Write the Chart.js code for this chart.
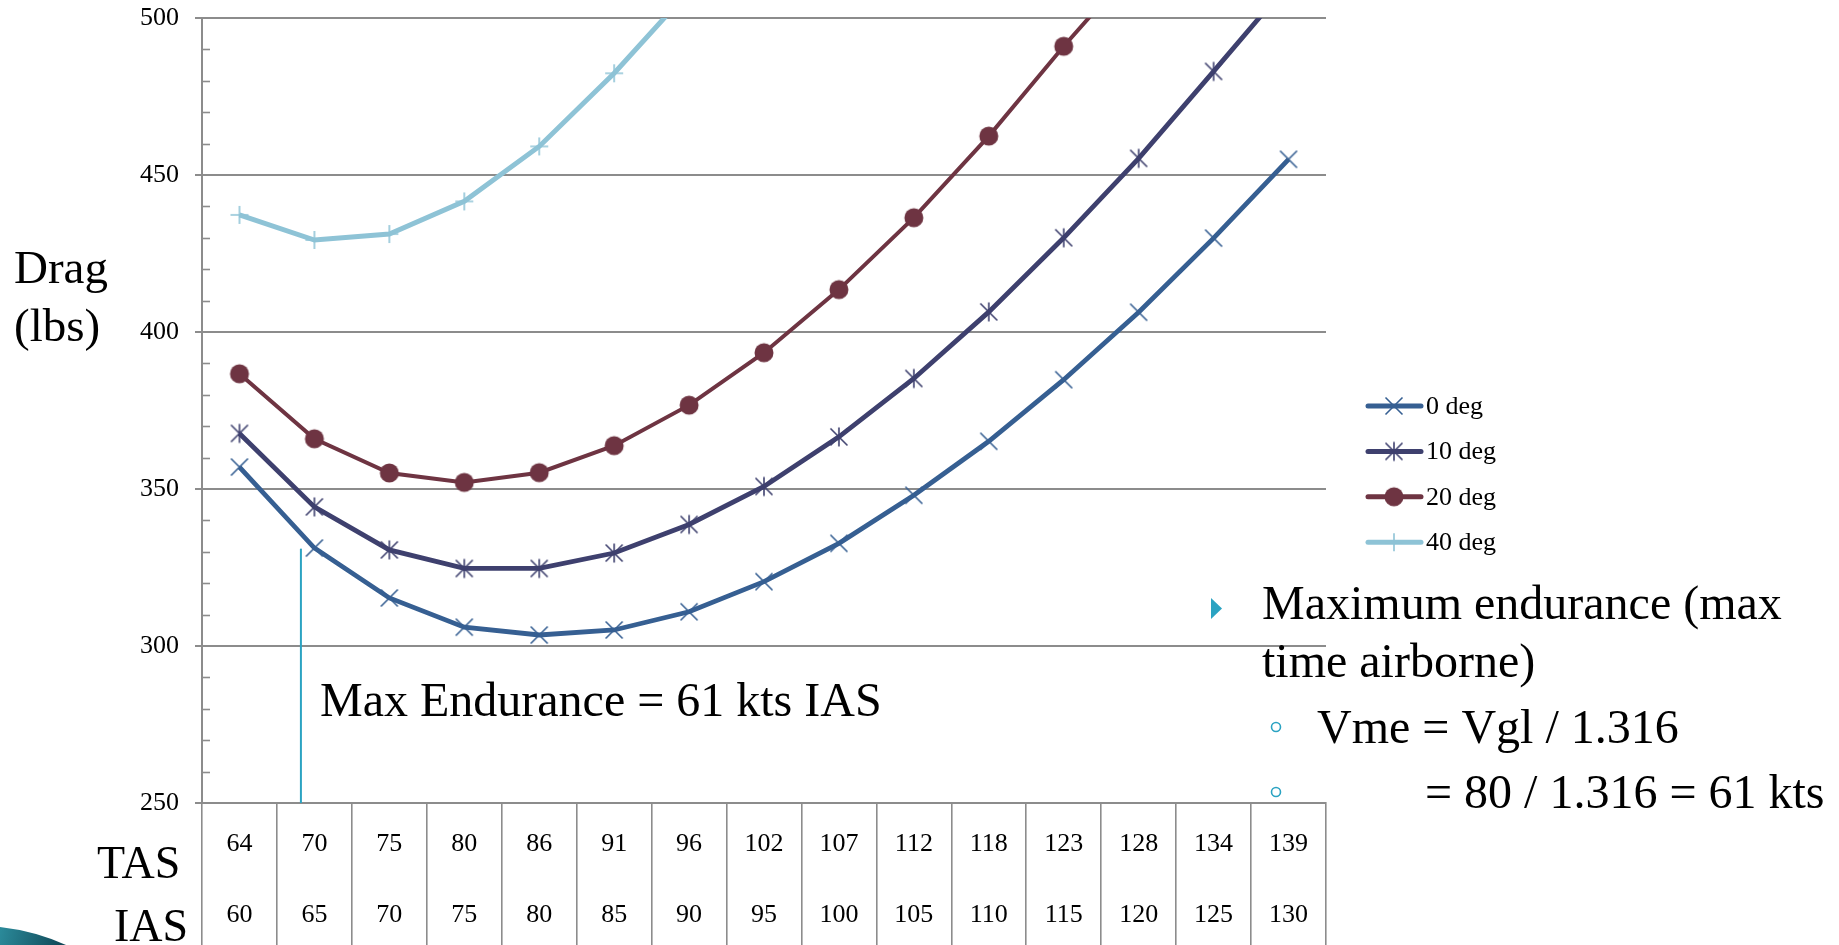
<!DOCTYPE html>
<html>
<head>
<meta charset="utf-8">
<script src="https://cdn.jsdelivr.net/npm/chart.js@4.4.1/dist/chart.umd.min.js"></script>
<style>
  html, body { margin: 0; padding: 0; background: #fff; }
  #wrap { position: relative; width: 1839px; height: 945px; }
</style>
</head>
<body>
<div id="wrap"><canvas id="dragChart"></canvas></div>
<script>
// speeds along the x axis (two rows under the plot)
const tasLabels = ['64', '70', '75', '80', '86', '91', '96', '102', '107', '112', '118', '123', '128', '134', '139'];
const iasLabels = ['60', '65', '70', '75', '80', '85', '90', '95', '100', '105', '110', '115', '120', '125', '130'];

const seriesNames = ['0 deg', '10 deg', '20 deg', '40 deg'];

// drag in lbs (points above 500 are cut off by the axis)
const drag0 = [357, 331.2, 315.3, 306, 303.5, 305.1, 310.9, 320.5, 332.7, 348, 365.2, 384.8, 406.3, 429.9, 455];
const drag10 = [367.7, 344.3, 330.6, 324.7, 324.7, 329.6, 338.7, 350.8, 366.6, 385.2, 406.4, 430, 455.3, 483, 511];
const drag20 = [386.7, 366, 355.1, 352.1, 355.2, 363.8, 376.7, 393.4, 413.5, 436.4, 462.4, 491, 518, null, null];
const drag40 = [437.3, 429.3, 431.2, 441.6, 459.1, 482.4, 508.7, null, null, null, null, null, null, null, null];

const yMin = 250;
const yMax = 500;
const yStep = 50;
const yMinorStep = 10;

// max endurance marker (category position and top value)
const endurancePos = 0.82;
const enduranceTop = 331;

const colors = ['#365f92', '#3e406e', '#6e3442', '#8ec3d6'];
const gridGray = '#8c8c8c';
const accent = '#2ba3c2';
const serif = '"Liberation Serif", "Times New Roman", serif';

function makeMarker(kind, color) {
  const c = document.createElement('canvas');
  c.width = 24;
  c.height = 24;
  const g = c.getContext('2d');
  g.translate(12, 12);
  g.strokeStyle = color;
  g.fillStyle = color;
  g.lineWidth = 1.6;
  g.beginPath();
  if (kind === 'x' || kind === 'star') {
    g.moveTo(-8.5, -8.5); g.lineTo(8.5, 8.5);
    g.moveTo(-8.5, 8.5); g.lineTo(8.5, -8.5);
  }
  if (kind === 'star') {
    g.moveTo(0, -9.5); g.lineTo(0, 9.5);
  }
  if (kind === 'plus') {
    g.moveTo(-9, 0); g.lineTo(9, 0);
    g.moveTo(0, -9); g.lineTo(0, 9);
  }
  g.stroke();
  if (kind === 'dot') {
    g.beginPath();
    g.arc(0, 0, 9.5, 0, Math.PI * 2);
    g.fill();
  }
  return c;
}

const markers = [
  makeMarker('x', colors[0]),
  makeMarker('star', colors[1]),
  makeMarker('dot', colors[2]),
  makeMarker('plus', colors[3])
];
const lineWidths = [4.8, 4.8, 4, 5];

function makeSet(i, values) {
  return {
    label: seriesNames[i],
    data: values,
    borderColor: colors[i],
    backgroundColor: colors[i],
    borderWidth: lineWidths[i],
    pointStyle: markers[i],
    pointRadius: 9,
    pointHoverRadius: 9,
    tension: 0,
    spanGaps: false
  };
}

// minor ticks, side legend and slide texts
const extras = {
  id: 'extras',
  beforeDatasetsDraw(chart) {
    const ctx = chart.ctx;
    const y = chart.scales.y;
    const x = chart.scales.x;
    ctx.save();
    ctx.strokeStyle = gridGray;
    ctx.lineWidth = 1.6;
    for (let v = yMin; v <= yMax; v += yMinorStep) {
      if (v % yStep === 0) continue;
      const py = Math.round(y.getPixelForValue(v)) + 0.5;
      ctx.beginPath();
      ctx.moveTo(chart.chartArea.left, py);
      ctx.lineTo(chart.chartArea.left + 8, py);
      ctx.stroke();
    }
    // max endurance line
    const p0 = x.getPixelForValue(0);
    const p1 = x.getPixelForValue(1);
    const ex = p0 + endurancePos * (p1 - p0);
    ctx.strokeStyle = accent;
    ctx.lineWidth = 2;
    ctx.beginPath();
    ctx.moveTo(ex, y.getPixelForValue(enduranceTop));
    ctx.lineTo(ex, y.getPixelForValue(yMin));
    ctx.stroke();
    ctx.restore();
  },
  afterDraw(chart) {
    const ctx = chart.ctx;
    ctx.save();

    // legend
    chart.data.datasets.forEach((ds, i) => {
      const cy = 406 + i * 45.4;
      ctx.strokeStyle = ds.borderColor;
      ctx.lineWidth = 5;
      ctx.lineCap = 'round';
      ctx.beginPath();
      ctx.moveTo(1368, cy);
      ctx.lineTo(1421, cy);
      ctx.stroke();
      const m = ds.pointStyle;
      ctx.drawImage(m, 1394 - m.width / 2, cy - m.height / 2);
      ctx.fillStyle = '#000';
      ctx.font = '26px ' + serif;
      ctx.textBaseline = 'middle';
      ctx.textAlign = 'left';
      ctx.fillText(ds.label, 1426, cy + 1);
    });

    ctx.fillStyle = '#000';
    ctx.textBaseline = 'alphabetic';
    ctx.textAlign = 'left';
    ctx.font = '47px ' + serif;
    ctx.fillText('Drag', 14, 283);
    ctx.fillText('(lbs)', 14, 341);
    ctx.font = '46px ' + serif;
    ctx.fillText('TAS', 97, 878);
    ctx.fillText('IAS', 114, 941);
    ctx.font = '48px ' + serif;
    ctx.fillText('Max Endurance = 61 kts IAS', 320, 716);

    // bullet text on the right
    ctx.fillText('Maximum endurance (max', 1262, 619);
    ctx.fillText('time airborne)', 1262, 677);
    ctx.fillText('Vme = Vgl / 1.316', 1317, 743);
    ctx.fillText('= 80 / 1.316 = 61 kts', 1425, 808);

    ctx.fillStyle = accent;
    ctx.beginPath();
    ctx.moveTo(1211, 598);
    ctx.lineTo(1222, 608.5);
    ctx.lineTo(1211, 619);
    ctx.closePath();
    ctx.fill();
    ctx.strokeStyle = accent;
    ctx.lineWidth = 1.6;
    [727, 792].forEach(cy => {
      ctx.beginPath();
      ctx.arc(1276, cy, 4.5, 0, Math.PI * 2);
      ctx.stroke();
    });

    // corner swoosh
    const grad = ctx.createLinearGradient(0, 930, 70, 945);
    grad.addColorStop(0, '#2b8a9a');
    grad.addColorStop(1, '#0c4150');
    ctx.fillStyle = grad;
    ctx.beginPath();
    ctx.moveTo(0, 927);
    ctx.quadraticCurveTo(35, 931, 66, 945);
    ctx.lineTo(0, 945);
    ctx.closePath();
    ctx.fill();
    ctx.restore();
  }
};

const labels = tasLabels.map((t, i) => [t, iasLabels[i]]);

new Chart(document.getElementById('dragChart'), {
  type: 'line',
  data: {
    labels: labels,
    datasets: [
      makeSet(0, drag0),
      makeSet(1, drag10),
      makeSet(2, drag20),
      makeSet(3, drag40)
    ]
  },
  options: {
    responsive: true,
    maintainAspectRatio: false,
    animation: false,
    events: [],
    layout: {
      padding: { top: 18, right: 513, bottom: 0, left: 0 }
    },
    plugins: {
      legend: { display: false },
      tooltip: { enabled: false }
    },
    scales: {
      x: {
        offset: true,
        grid: {
          display: true,
          offset: true,
          drawOnChartArea: false,
          drawTicks: true,
          tickLength: 142,
          color: gridGray,
          lineWidth: 1.6
        },
        border: { display: true, color: gridGray, width: 2 },
        ticks: {
          autoSkip: false,
          maxRotation: 0,
          padding: -136,
          color: '#000',
          font: { family: serif, size: 26, lineHeight: '71px' }
        },
        afterFit(scale) {
          scale.height = 142;
          scale.paddingLeft = 0;
          scale.paddingRight = 0;
        }
      },
      y: {
        min: yMin,
        max: yMax,
        ticks: {
          stepSize: yStep,
          padding: 16,
          color: '#000',
          font: { family: serif, size: 26 }
        },
        grid: {
          color: gridGray,
          lineWidth: 2,
          tickLength: 7
        },
        border: { display: true, color: gridGray, width: 2 },
        afterFit(scale) {
          scale.width = 202;
          scale.paddingTop = 0;
          scale.paddingBottom = 0;
        }
      }
    }
  },
  plugins: [extras]
});
</script>
</body>
</html>
